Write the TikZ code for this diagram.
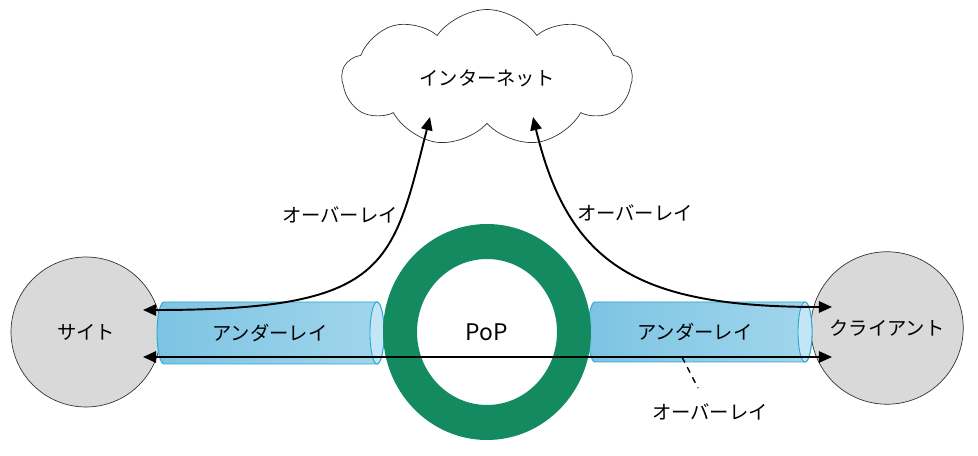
\documentclass[tikz,border=0pt]{standalone}
\usepackage{fontspec}
\setmainfont{Noto Sans CJK JP}
\usepackage{tikz}
\usetikzlibrary{arrows.meta}
\usetikzlibrary{shapes.symbols}
\usetikzlibrary{positioning}
\definecolor{pipeline}{HTML}{22A7CF}
\definecolor{pipedark}{HTML}{7CC4E3}
\definecolor{pipelight}{HTML}{A2D6EC}
\definecolor{pipecap}{HTML}{C4E5F5}
\definecolor{popgreen}{HTML}{148A60}
\definecolor{hostgray}{HTML}{D9D9D9}
\tikzstyle{host} = [circle,draw=black!80,fill=hostgray,minimum size=3cm,inner sep=0pt,font=\fontsize{11pt}{13pt}\selectfont]
\tikzstyle{lbl} = [font=\fontsize{11pt}{13pt}\selectfont,inner sep=1pt]
\tikzstyle{arrow} = [line width=1.1pt,{Triangle[length=7.5pt,width=6.5pt]}-{Triangle[length=7.5pt,width=6.5pt]}]
\tikzstyle{pipe} = [left color=pipedark,right color=pipelight,draw=pipeline,line width=0.5pt]

\begin{document}
\begin{tikzpicture}[x=0.02cm,y=0.02cm]
\useasboundingbox (0,0) rectangle (978,456);
\node[host] (site) at (86,124) {サイト};
\node[host,minimum size=3.05cm] (client) at (887,128) {クライアント};
\node[cloud,draw=black!80,cloud puffs=9,cloud puff arc=110,aspect=2.2,minimum width=5.8cm,minimum height=2.74cm,lbl] (net) at (487,378) {インターネット};
\shade[pipe] (164,154) -- (377,154) arc[start angle=90,end angle=-90,x radius=7,y radius=31] -- (164,92) arc[start angle=270,end angle=90,x radius=7,y radius=31] -- cycle;
\filldraw[fill=pipecap,draw=pipeline,line width=0.5pt] (377,123) ellipse[x radius=7,y radius=31];
\shade[pipe] (595,154) -- (805,154) arc[start angle=90,end angle=-90,x radius=7,y radius=30] -- (595,94) arc[start angle=270,end angle=90,x radius=7,y radius=30] -- cycle;
\filldraw[fill=pipecap,draw=pipeline,line width=0.5pt] (805,124) ellipse[x radius=7,y radius=30];
\node[lbl] (under1) at (270,123) {アンダーレイ};
\node[lbl] (under2) at (695,124) {アンダーレイ};
\fill[popgreen,even odd rule] (487,124) ellipse[x radius=104,y radius=108] (487,124) ellipse[x radius=70,y radius=73];
\node[font=\fontsize{13pt}{15pt}\selectfont] (pop) at (487,124) {PoP};
\coordinate (s1) at (143,146);
\coordinate (s2) at (143,99);
\coordinate (c1) at (832,149);
\coordinate (c2) at (832,99);
\coordinate (n1) at (430,339);
\coordinate (n2) at (533,339);
\draw[arrow] (s1) .. controls (388,146) and (392,189) .. (n1);
\draw[arrow] (n2) .. controls (569,189) and (640,149) .. (c1);
\draw[arrow] (s2) -- (c2);
\node[lbl] (over1) at (340,241) {オーバーレイ};
\node[lbl] (over2) at (635,243) {オーバーレイ};
\node[lbl] (over3) at (710,44) {オーバーレイ};
\coordinate (d1) at (682,99);
\coordinate (d2) at (698,68);
\draw[line width=0.8pt,dash pattern=on 3.5pt off 3pt] (d1) -- (d2);
\end{tikzpicture}
\end{document}
